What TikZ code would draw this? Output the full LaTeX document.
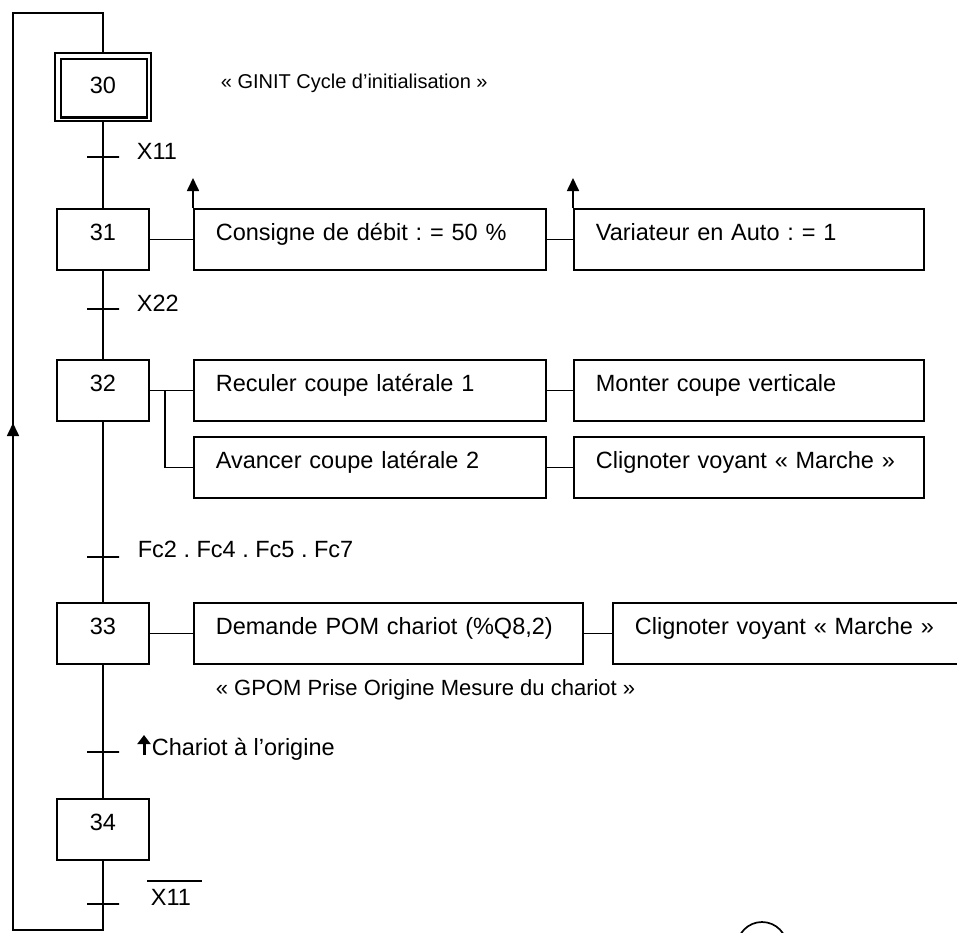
\documentclass[tikz,border=0pt]{standalone}
\usepackage{fontspec}
\setmainfont{Liberation Sans}
\usetikzlibrary{arrows.meta}
\frenchspacing
\begin{document}
\begin{tikzpicture}[x=1pt, y=-1pt, line width=1.7pt,
  every node/.style={font=\fontsize{23.5}{28}\selectfont},
  stepbox/.style={draw, anchor=north, inner sep=0pt, minimum width=92pt, minimum height=61pt, text height=32pt, text depth=29pt},
  actbox/.style={draw, anchor=north west, inner xsep=22pt, inner ysep=0pt, text height=32pt, text depth=29pt, align=left, text width=#1},
  tick/.style={draw, inner sep=0pt, minimum width=32pt, minimum height=0pt},
  lbl/.style={anchor=base west, inner sep=0pt},
  up/.style={-{Triangle[width=12pt,length=13pt]}}
]
\useasboundingbox (0,0) rectangle (957,932);
\clip (0,0) rectangle (957,932);

% step 30 (initial)
\node[draw, anchor=north, inner sep=0pt, minimum width=96pt, minimum height=68pt, text height=40pt, text depth=28pt, line width=2.4pt] (s30) at (103,52) {30};
\draw[line width=2.4pt] ([shift={(7pt,-7pt)}]s30.north west) rectangle ([shift={(-5pt,5pt)}]s30.south east);
\node[lbl, font=\fontsize{20}{24}\selectfont] (ginit) at (220,88) {« GINIT Cycle d’initialisation »};

% transition X11
\node[tick] (t1) at (103,157) {};
\node[lbl] (l1) at (136,159) {X11};

% step 31
\node[stepbox] (s31) at (103,208) {31};
\node[actbox=308pt] (a11) at (193,208) {Consigne de débit : = 50 \%};
\node[actbox=306pt] (a12) at (573,208) {Variateur en Auto : = 1};

% transition X22
\node[tick] (t2) at (103,309) {};
\node[lbl] (l2) at (136,311) {X22};

% step 32
\node[stepbox] (s32) at (103,359) {32};
\node[actbox=308pt] (a21) at (193,359) {Reculer coupe latérale 1};
\node[actbox=306pt] (a22) at (573,359) {Monter coupe verticale};
\node[actbox=308pt] (a23) at (193,436) {Avancer coupe latérale 2};
\node[actbox=306pt] (a24) at (573,436) {Clignoter voyant « Marche »};

% transition Fc
\node[tick] (t3) at (103,557) {};
\node[lbl] (l3) at (137,557) {Fc2 . Fc4 . Fc5 . Fc7};

% step 33
\node[stepbox] (s33) at (103,602) {33};
\node[actbox=345pt] (a31) at (193,602) {Demande POM chariot (\%Q8,2)};
\node[actbox=315pt] (a32) at (612,602) {Clignoter voyant « Marche »};
\node[lbl, font=\fontsize{22}{26}\selectfont] (gpom) at (215,695) {« GPOM Prise Origine Mesure du chariot »};

% transition chariot
\node[tick] (t4) at (103,752) {};
\node[lbl] (l4) at (151,755) {Chariot à l’origine};
\draw[line width=3pt, -{Triangle[width=13pt,length=9pt]}] ([xshift=-7pt]l4.base west) -- ++(0,-20);

% step 34
\node[stepbox] (s34) at (103,798) {34};

% transition not X11
\node[tick] (t5) at (103,904) {};
\node[lbl] (l5) at (150,905) {X11};
\draw[line width=1.4pt] ([xshift=-3pt,yshift=7pt]l5.north west) -- ([xshift=10pt,yshift=7pt]l5.north east);

% loop
\coordinate (ctr) at (103,13);
\coordinate (ctl) at (13,13);
\coordinate (cbl) at (13,930);
\coordinate (cbr) at (103,930);
\coordinate (carrow) at (13,423);
\draw (s30.north) -- (ctr) -- (ctl) -- (cbl) -- (cbr) -- (s34.south);
\draw[up] ([yshift=-30pt]carrow) -- (carrow);

% main line
\draw (s30.south) -- (s31.north);
\draw (s31.south) -- (s32.north);
\draw (s32.south) -- (s33.north);
\draw (s33.south) -- (s34.north);

% actions connectors
\draw (s31.east) -- (a11.west);
\draw (a11.east) -- (a12.west);
\draw[up] (a11.north west) -- ++(0,-30);
\draw[up] (a12.north west) -- ++(0,-30);
\draw (s32.east) -- (a21.west);
\draw ([xshift=15pt]s32.east) |- (a23.west);
\draw (a21.east) -- (a22.west);
\draw (a23.east) -- (a24.west);
\draw (s33.east) -- (a31.west);
\draw (a31.east) -- (a32.west);

% partial circle at bottom
\draw (762,947) circle (25pt);
\end{tikzpicture}
\end{document}
